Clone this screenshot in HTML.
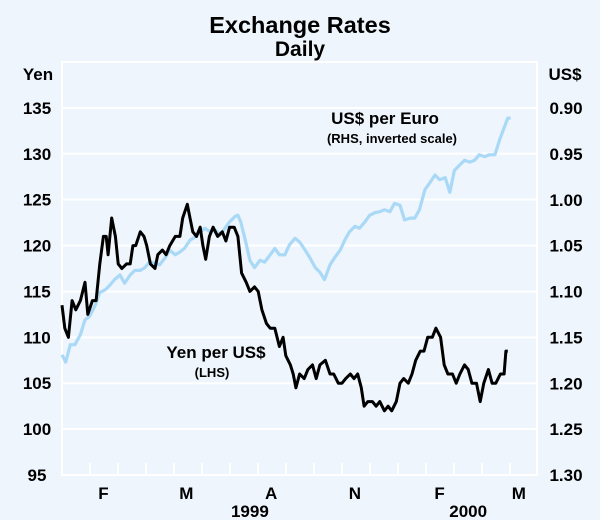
<!DOCTYPE html>
<html><head><meta charset="utf-8"><style>
body{margin:0;background:#eef5fc;}
svg{display:block;font-family:"Liberation Sans",Arial,sans-serif;}
</style></head><body>
<svg id="chart" width="600" height="520" viewBox="0 0 600 520">
<rect x="0" y="0" width="600" height="520" fill="#eef5fc"/>
<text x="300" y="33" text-anchor="middle" font-size="23.5" font-weight="bold">Exchange Rates</text>
<text x="300" y="56" text-anchor="middle" font-size="21" font-weight="bold">Daily</text>
<text x="38" y="80" text-anchor="middle" font-size="17" font-weight="bold">Yen</text>
<text x="565" y="80" text-anchor="middle" font-size="17" font-weight="bold">US$</text>
<g id="grid"></g>
<g id="series"></g>
<g id="labels"></g>
<text x="385" y="124" text-anchor="middle" font-size="17" font-weight="bold">US$ per Euro</text>
<text x="392" y="143" text-anchor="middle" font-size="13" font-weight="bold">(RHS, inverted scale)</text>
<text x="216" y="358" text-anchor="middle" font-size="17" font-weight="bold">Yen per US$</text>
<text x="212" y="377" text-anchor="middle" font-size="13" font-weight="bold">(LHS)</text>
</svg>
<script>
const leftTicks=[95,100,105,110,115,120,125,130,135];
const rightTicks=["0.90","0.95","1.00","1.05","1.10","1.15","1.20","1.25","1.30"];
const quarterLabels=["F","M","A","N","F","M"];
const quarterLabelDays=[45,135,227,318,410,496];
const yearLabels=["1999","2000"];
const yearLabelDays=[204,441];
const yenSeries=[[0,113.5],[3,111],[7,110],[11,114],[15,113],[20,114],[25,116],[28,112.5],[33,114],[37,114],[41,118],[45,121],[48,121],[50,119],[54,123],[58,121],[61,118],[65,117.5],[70,118],[74,118],[77,120],[80,120],[85,121.5],[89,121],[92,120],[96,118],[101,117.5],[104,119],[109,119.5],[113,119],[117,120],[123,121],[128,121],[131,123],[136,124.5],[139,123],[142,121.5],[146,121],[150,122],[153,120],[156,118.5],[160,121],[164,122],[169,121],[174,121.5],[178,120.5],[182,122],[187,122],[191,121],[195,117],[200,116],[204,115],[209,115.5],[213,115],[217,113],[222,111.5],[226,111],[231,111],[236,109],[240,110],[243,108],[248,107],[251,106],[254,104.5],[258,106],[263,105.5],[267,106.5],[272,107],[276,105.5],[280,107],[286,107.5],[291,106],[295,106],[300,105],[304,105],[308,105.5],[313,106],[317,105.5],[321,106],[325,104.5],[328,102.5],[332,103],[337,103],[341,102.5],[345,103],[350,102],[354,102.5],[358,102],[363,103],[367,105],[371,105.5],[376,105],[380,106],[384,107.5],[389,108.5],[393,108.5],[397,110],[402,110],[406,111],[411,110],[415,107],[419,106],[424,106],[428,105],[432,106],[437,107],[441,106.5],[445,105],[450,105],[454,103],[458,105],[463,106.5],[467,105],[471,105],[476,106],[480,106],[482,108.5],[484,108.5]];
const euroSeries=[[0,1.169],[4,1.177],[9,1.158],[14,1.158],[20,1.147],[25,1.131],[30,1.127],[36,1.115],[41,1.101],[47,1.098],[52,1.093],[57,1.087],[63,1.082],[68,1.091],[74,1.082],[79,1.077],[85,1.077],[90,1.074],[95,1.068],[101,1.069],[106,1.071],[112,1.063],[117,1.055],[123,1.060],[128,1.057],[133,1.053],[139,1.044],[144,1.041],[150,1.035],[155,1.031],[161,1.035],[166,1.033],[172,1.038],[177,1.031],[182,1.024],[188,1.018],[191,1.017],[194,1.024],[199,1.044],[204,1.066],[209,1.074],[215,1.066],[220,1.068],[226,1.060],[231,1.053],[236,1.060],[242,1.060],[247,1.049],[253,1.042],[258,1.046],[264,1.055],[269,1.063],[275,1.074],[280,1.079],[285,1.087],[291,1.071],[296,1.063],[302,1.055],[307,1.044],[312,1.035],[318,1.029],[323,1.031],[329,1.024],[334,1.017],[340,1.014],[345,1.013],[350,1.011],[356,1.013],[361,1.004],[367,1.006],[372,1.022],[378,1.020],[383,1.020],[388,1.011],[394,0.989],[399,0.982],[405,0.973],[410,0.978],[416,0.976],[421,0.992],[426,0.968],[432,0.962],[437,0.957],[443,0.959],[448,0.957],[453,0.951],[459,0.953],[464,0.951],[470,0.951],[475,0.935],[481,0.919],[484,0.911],[487,0.911]];

const NS="http://www.w3.org/2000/svg";
const L=62,R=537,T=62,B=475;
const xS=d=>L+d*(28/30.4);
const yL=v=>B-(v-95)*(B-T)/45;
const yR=v=>108+(v-0.90)*(B-108)/0.40;
function mk(tag,attrs,parent){const e=document.createElementNS(NS,tag);for(const k in attrs)e.setAttribute(k,attrs[k]);parent.appendChild(e);return e;}
const grid=document.getElementById('grid'),ser=document.getElementById('series'),lab=document.getElementById('labels');
let fr=mk('rect',{x:L,y:T,width:R-L,height:B-T,fill:'none',stroke:'#fff','stroke-width':2},grid);


leftTicks.forEach((v,i)=>{
  const y=yL(v);
  const g=mk('line',{x1:L,x2:R,y1:y,y2:y,stroke:'#fff','stroke-width':2},grid);
  
  
  const t=mk('text',{x:37,y:y+6,'text-anchor':'middle','font-size':17,'font-weight':'bold'},lab);t.textContent=v;
  
  
  const r=mk('text',{x:566,y:yR(parseFloat(rightTicks[i]))+6,'text-anchor':'middle','font-size':17,'font-weight':'bold'},lab);r.textContent=rightTicks[i];
  
  
});
for(let m=1;m<17;m++){
  const x=L+m*28;
  const tk=mk('line',{x1:x,x2:x,y1:B,y2:B-12,stroke:'#fff','stroke-width':2},grid);
  
  
}
quarterLabels.forEach((s,i)=>{
  const t=mk('text',{x:xS(quarterLabelDays[i]),y:499,'text-anchor':'middle','font-size':17,'font-weight':'bold'},lab);t.textContent=s;
  
  
});
yearLabels.forEach((s,i)=>{
  const t=mk('text',{x:xS(yearLabelDays[i]),y:517,'text-anchor':'middle','font-size':17,'font-weight':'bold'},lab);t.textContent=s;
  
  
});
const eu=mk('polyline',{points:euroSeries.map(p=>xS(p[0]).toFixed(1)+','+yR(p[1]).toFixed(1)).join(' '),fill:'none',stroke:'#a9d9f6','stroke-width':3.2,'stroke-linejoin':'round'},ser);


const yn=mk('polyline',{points:yenSeries.map(p=>xS(p[0]).toFixed(1)+','+yL(p[1]).toFixed(1)).join(' '),fill:'none',stroke:'#000','stroke-width':3,'stroke-linejoin':'round'},ser);


</script>
</body></html>
